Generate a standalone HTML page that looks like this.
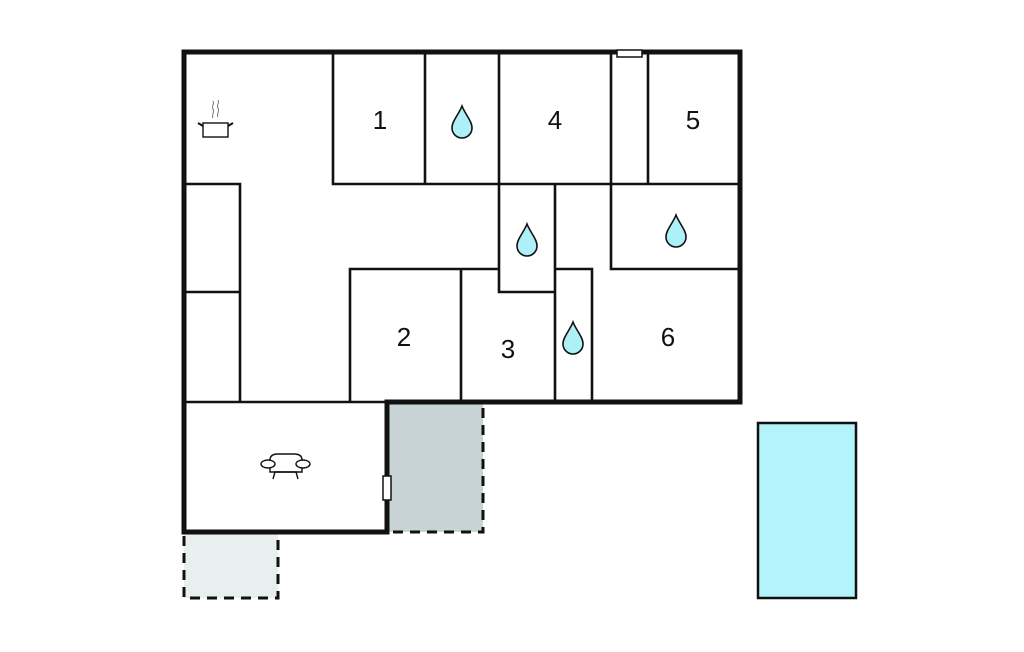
<!DOCTYPE html>
<html><head><meta charset="utf-8"><style>html,body{margin:0;padding:0;background:#fff}svg{display:block}</style></head>
<body>
<svg width="1024" height="652" viewBox="0 0 1024 652" xmlns="http://www.w3.org/2000/svg">
<defs>
<path id="drop" d="M0,-16 C3,-8 10,-1 10,6 A10,10 0 0 1 -10,6 C-10,-1 -3,-8 0,-16 Z" fill="#aef0f8" stroke="#111" stroke-width="1.6"/>
</defs>
<rect x="387" y="402" width="96" height="130" fill="#c8d3d5" stroke="#111" stroke-width="3" stroke-dasharray="10,7"/>
<rect x="184" y="532" width="94" height="66" fill="#e9eeee" stroke="#111" stroke-width="3" stroke-dasharray="10,7"/>
<rect x="758" y="423" width="98" height="175" fill="#b3f4fb" stroke="#111" stroke-width="2.5"/>
<g stroke="#111" stroke-width="2.6" fill="none">
<path d="M333,52 V184 H740"/>
<path d="M425,52 V184 M499,52 V292 H555 M555,184 V402 M611,52 V269 H740 M648,52 V184"/>
<path d="M184,184 H240 V402 M184,292 H240"/>
<path d="M350,402 V269 H499 M461,269 V402 M555,269 H592 V402"/>
<path d="M184,402 H387"/>
</g>
<path d="M184,52 H740 V402 H387 V532 H184 Z" fill="none" stroke="#111" stroke-width="5"/>
<rect x="617" y="50" width="25" height="7" fill="#fff" stroke="#111" stroke-width="1.5"/>
<rect x="383" y="476" width="8" height="24" fill="#fff" stroke="#111" stroke-width="1.5"/>
<use href="#drop" x="462" y="122"/>
<use href="#drop" x="527" y="240"/>
<use href="#drop" x="676" y="231"/>
<use href="#drop" x="573" y="338"/>
<g font-family="Liberation Sans, sans-serif" font-size="26" fill="#111" text-anchor="middle">
<text x="380" y="129">1</text>
<text x="555" y="129">4</text>
<text x="693" y="129">5</text>
<text x="404" y="346">2</text>
<text x="508" y="358">3</text>
<text x="668" y="346">6</text>
</g>
<g stroke="#111" stroke-width="1.4" fill="#fff">
<rect x="203" y="123" width="25" height="14"/>
<path d="M203,126 L198,123 M228,126 L233,123" fill="none" stroke-width="2"/>
<path d="M213,118 c-2,-3 2,-5 0,-9 c-2,-3 2,-5 0,-8 M218,117 c-2,-3 2,-5 0,-9 c-2,-3 2,-5 0,-8" fill="none" stroke="#777" stroke-width="1"/>
</g>
<g stroke="#111" stroke-width="1.4" fill="#fff">
<path d="M270,460 q0,-6 8,-6 h16 q8,0 8,6 v12 h-32 z"/>
<ellipse cx="268" cy="464" rx="7" ry="4"/>
<ellipse cx="303" cy="464" rx="7" ry="4"/>
<path d="M274,472 h23 M275,472 l-2,7 M296,472 l2,7" fill="none"/>
</g>
</svg>
</body></html>
